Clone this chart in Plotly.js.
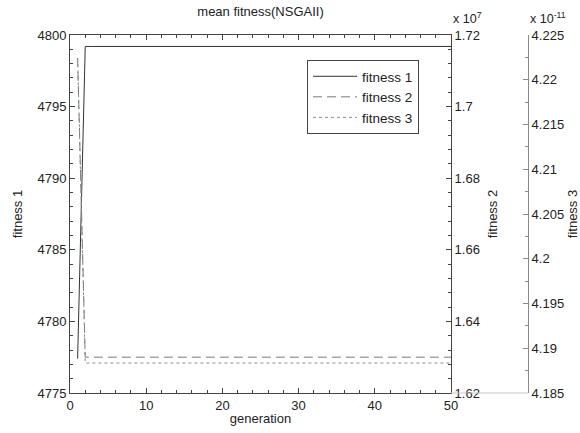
<!DOCTYPE html>
<html>
<head>
<meta charset="utf-8">
<script src="https://cdn.plot.ly/plotly-3.0.1.min.js"></script>
<style>html,body{margin:0;padding:0;background:#fff;}#chart{width:580px;height:433px;}</style>
</head>
<body>
<div id="chart"></div>
<script>
// generation numbers
var generations = [1,2,3,4,5,6,7,8,9,10,11,12,13,14,15,16,17,18,19,20,21,22,23,24,25,26,27,28,29,30,31,32,33,34,35,36,37,38,39,40,41,42,43,44,45,46,47,48,49,50];
// fitness 1 (raw units)
var fitness1 = [4777.4,4799.2,4799.2,4799.2,4799.2,4799.2,4799.2,4799.2,4799.2,4799.2,4799.2,4799.2,4799.2,4799.2,4799.2,4799.2,4799.2,4799.2,4799.2,4799.2,4799.2,4799.2,4799.2,4799.2,4799.2,4799.2,4799.2,4799.2,4799.2,4799.2,4799.2,4799.2,4799.2,4799.2,4799.2,4799.2,4799.2,4799.2,4799.2,4799.2,4799.2,4799.2,4799.2,4799.2,4799.2,4799.2,4799.2,4799.2,4799.2,4799.2];
// fitness 2 in units of 10^7
var fitness2 = [1.7136,1.6300,1.6300,1.6300,1.6300,1.6300,1.6300,1.6300,1.6300,1.6300,1.6300,1.6300,1.6300,1.6300,1.6300,1.6300,1.6300,1.6300,1.6300,1.6300,1.6300,1.6300,1.6300,1.6300,1.6300,1.6300,1.6300,1.6300,1.6300,1.6300,1.6300,1.6300,1.6300,1.6300,1.6300,1.6300,1.6300,1.6300,1.6300,1.6300,1.6300,1.6300,1.6300,1.6300,1.6300,1.6300,1.6300,1.6300,1.6300,1.6300];
// fitness 3 in units of 10^-11
var fitness3 = [4.2224,4.18835,4.18835,4.18835,4.18835,4.18835,4.18835,4.18835,4.18835,4.18835,4.18835,4.18835,4.18835,4.18835,4.18835,4.18835,4.18835,4.18835,4.18835,4.18835,4.18835,4.18835,4.18835,4.18835,4.18835,4.18835,4.18835,4.18835,4.18835,4.18835,4.18835,4.18835,4.18835,4.18835,4.18835,4.18835,4.18835,4.18835,4.18835,4.18835,4.18835,4.18835,4.18835,4.18835,4.18835,4.18835,4.18835,4.18835,4.18835,4.18835];
var seriesNames = ['fitness 1','fitness 2','fitness 3'];
var xTickVals = [0,10,20,30,40,50];

var FONT = 'Liberation Sans, Arial, sans-serif';
var TXT = '#222';
var AX = '#444';
var AX3 = '#8a8a8a';
var mainRight = (451-70)/458;

var traces = [
  {x: generations, y: fitness1, name: seriesNames[0], type: 'scatter', mode: 'lines',
   line: {color: '#333', width: 1, dash: 'solid'}, xaxis: 'x', yaxis: 'y'},
  {x: generations, y: fitness2, name: seriesNames[1], type: 'scatter', mode: 'lines',
   line: {color: '#7a7a7a', width: 1, dash: '9px,5px'}, xaxis: 'x', yaxis: 'y2'},
  {x: generations, y: fitness3, name: seriesNames[2], type: 'scatter', mode: 'lines',
   line: {color: '#8c8c8c', width: 1, dash: 'dot'}, xaxis: 'x', yaxis: 'y3'}
];

var tickFont = {family: FONT, size: 13, color: TXT};

var layout = {
  width: 580, height: 433,
  margin: {l: 70, r: 52, t: 35, b: 40, pad: 0},
  paper_bgcolor: '#fff', plot_bgcolor: 'rgba(0,0,0,0)',
  showlegend: true,
  font: {family: FONT, size: 13, color: TXT},
  title: {text: 'mean fitness(NSGAII)', font: {family: FONT, size: 13, color: TXT},
          xref: 'paper', x: 0.416, xanchor: 'center', yref: 'container', y: 0.974, yanchor: 'middle'},
  xaxis: {
    domain: [0, mainRight], range: [0, 50], anchor: 'y',
    tickmode: 'array', tickvals: xTickVals,
    ticks: 'inside', ticklen: 5, tickcolor: AX, showline: true, linecolor: AX, linewidth: 1,
    mirror: 'ticks', showgrid: false, zeroline: false, tickfont: tickFont,
    minor: {dtick: 2, tick0: 0, ticks: 'inside', ticklen: 3, tickcolor: AX, showgrid: false},
    title: {text: 'generation', font: {family: FONT, size: 13, color: TXT}, standoff: 2},
    automargin: false
  },
  yaxis: {
    range: [4775, 4800], dtick: 5, tick0: 4775, anchor: 'x', side: 'left',
    ticks: 'inside', ticklen: 5, tickcolor: AX, showline: true, linecolor: AX, linewidth: 1,
    showgrid: false, zeroline: false, tickfont: tickFont,
    minor: {dtick: 1, tick0: 4775, ticks: 'inside', ticklen: 3, tickcolor: AX, showgrid: false},
    title: {text: 'fitness 1', font: {family: FONT, size: 13, color: TXT}, standoff: 11},
    automargin: false
  },
  yaxis2: {
    range: [1.62, 1.72], dtick: 0.02, tick0: 1.62, overlaying: 'y', side: 'right', anchor: 'x',
    ticks: 'inside', ticklen: 5, tickcolor: AX, showline: true, linecolor: AX, linewidth: 1,
    showgrid: false, zeroline: false, tickfont: tickFont,
    minor: {dtick: 0.004, tick0: 1.62, ticks: 'inside', ticklen: 3, tickcolor: AX, showgrid: false},
    title: {text: 'fitness 2', font: {family: FONT, size: 13, color: TXT}, standoff: 8},
    automargin: false
  },
  yaxis3: {
    range: [4.185, 4.225], dtick: 0.005, tick0: 4.185, overlaying: 'y', side: 'right', anchor: 'free', position: 1,
    ticks: 'inside', ticklen: 5, tickcolor: AX3, showline: true, linecolor: AX3, linewidth: 1,
    showgrid: false, zeroline: false, tickfont: tickFont,
    minor: {dtick: 0.0025, tick0: 4.185, ticks: 'inside', ticklen: 3, tickcolor: AX3, showgrid: false},
    title: {text: 'fitness 3', font: {family: FONT, size: 13, color: TXT}, standoff: 8},
    automargin: false
  },
  legend: {
    x: (307-70)/458, xanchor: 'left', y: (393-60)/358, yanchor: 'top',
    bgcolor: '#fff', bordercolor: AX, borderwidth: 1,
    font: {family: FONT, size: 13.5, color: TXT}, tracegroupgap: 0, itemwidth: 44
  },
  shapes: [
    {type: 'line', xref: 'paper', yref: 'paper', x0: mainRight, x1: 1, y0: 0, y1: 0,
     line: {color: '#c8c8c8', width: 1}}
  ],
  annotations: [
    {text: 'x 10<sup>7</sup>', xref: 'paper', yref: 'paper', x: mainRight, y: 1, xanchor: 'left', yanchor: 'bottom',
     yshift: 7, showarrow: false, font: {family: FONT, size: 12.5, color: TXT}},
    {text: 'x 10<sup>-11</sup>', xref: 'paper', yref: 'paper', x: 1, y: 1, xanchor: 'left', yanchor: 'bottom',
     xshift: 0, yshift: 7, showarrow: false, font: {family: FONT, size: 12.5, color: TXT}}
  ]
};

Plotly.newPlot('chart', traces, layout, {staticPlot: true, displayModeBar: false});
</script>
</body>
</html>
